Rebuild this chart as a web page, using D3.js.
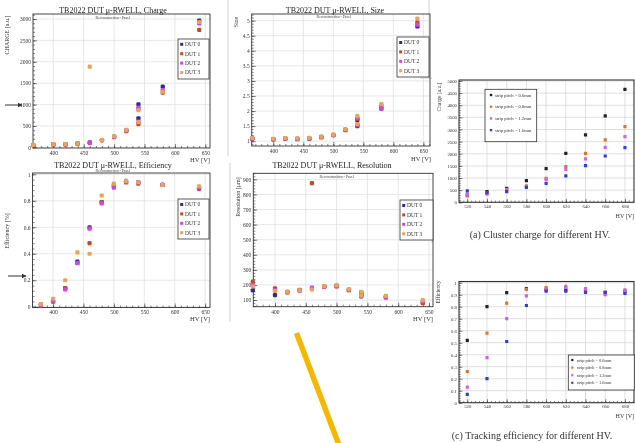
<!DOCTYPE html>
<html><head><meta charset="utf-8">
<script src="https://cdn.jsdelivr.net/npm/d3@7"></script>
<style>
body{margin:0;background:#fff}
svg{display:block;font-family:"Liberation Serif","DejaVu Serif",serif;filter:blur(0.35px)}
</style></head>
<body><svg id="c" width="635" height="443"></svg>
<script>
// ---------------- DATA ----------------
const dutNames = ["DUT 0","DUT 1","DUT 2","DUT 3"];
const dutColors = ["#2b2ba0","#c9471f","#cf45e6","#eba354"];

// Charge (left top)
const chargeHV = [367,400,420,440,460,480,500,520,540,540,580,640];
const chargeDUT0 = [50,70,70,90,110,170,250,400,1005,680,1420,2960];
const chargeDUT1 = [50,70,70,90,110,170,240,380,900,545,1280,2745];
const chargeDUT2 = [50,70,70,90,110,170,245,390,930,600,1340,2900];
const chargeDUT3 = [60,75,75,95,1886,175,260,410,870,590,1300,2930];
const chargeYTicks = [0,500,1000,1500,2000,2500,3000];

// Efficiency (left bottom)
const effHV = [380,400,420,440,460,480,500,520,540,580,640];
const effDUT0 = [0.01,0.04,0.14,0.34,0.60,0.79,0.91,0.94,0.94,0.92,0.90];
const effDUT1 = [0.02,0.04,0.14,0.33,0.48,0.79,0.92,0.95,0.93,0.92,0.89];
const effDUT2 = [0.01,0.04,0.13,0.33,0.59,0.78,0.90,0.94,0.94,0.92,0.90];
const effDUT3 = [0.02,0.06,0.20,0.41,0.40,0.84,0.93,0.95,0.94,0.92,0.91];
const effYTicks = [0,0.2,0.4,0.6,0.8,1];

// Size (middle top)
const sizeHV = [365,400,420,440,460,480,500,520,540,540,580,640];
const sizeDUT0 = [1.08,1.06,1.08,1.07,1.08,1.13,1.20,1.37,1.70,1.50,2.08,4.81];
const sizeDUT1 = [1.09,1.07,1.09,1.08,1.10,1.14,1.21,1.38,1.75,1.52,2.17,4.94];
const sizeDUT2 = [1.09,1.07,1.09,1.08,1.09,1.13,1.20,1.38,1.76,1.55,2.09,4.87];
const sizeDUT3 = [1.10,1.08,1.10,1.09,1.11,1.15,1.22,1.40,1.83,1.57,2.23,5.07];
const sizeYTicks = [1,1.5,2,2.5,3,3.5,4,4.5,5];

// Resolution (middle bottom)
const resHV = [364,400,420,440,460,480,500,520,540,540,580,640];
const resDUT0 = [165,133,152,165,175,190,193,165,150,125,118,85];
const resDUT1 = [222,178,155,167,875,190,195,170,140,133,125,80];
const resDUT2 = [200,165,150,162,182,188,190,168,145,130,120,90];
const resDUT3 = [190,160,155,165,170,192,198,172,155,130,128,100];
const resYTicks = [100,200,300,400,500,600,700,800,900];

const dutXTicks = [400,450,500,550,600,650];

// Right column (strip pitch study)
const pitchNames = ["strip pitch = 0.6mm","strip pitch = 0.8mm","strip pitch = 1.2mm","strip pitch = 1.6mm"];
const pitchColors = ["#222222","#e8702a","#d060f0","#3040e0"];
const pitchHV = [520,540,560,580,600,620,640,660,680];
const clChg06 = [300,440,577,893,1387,2019,2775,3558,4657];
const clChg08 = [261,343,535,673,989,1470,2019,2569,3118];
const clChg12 = [343,360,500,645,948,1360,1786,2267,2706];
const clChg16 = [467,400,440,618,783,1085,1511,1909,2253];
const trEff06 = [0.52,0.80,0.917,0.95,0.94,0.94,0.93,0.92,0.93];
const trEff08 = [0.26,0.58,0.83,0.944,0.96,0.97,0.94,0.90,0.92];
const trEff12 = [0.13,0.375,0.70,0.89,0.95,0.96,0.95,0.91,0.94];
const trEff16 = [0.07,0.20,0.51,0.81,0.93,0.93,0.92,0.92,0.91];
const pitchXTicks = [520,540,560,580,600,620,640,660,680];
const clChgYTicks = [0,500,1000,1500,2000,2500,3000,3500,4000,4500,5000];
const trEffYTicks = [0,0.1,0.2,0.3,0.4,0.5,0.6,0.7,0.8,0.9,1];

// ---------------- DRAW ----------------
const svg = d3.select("#c");
const FONT = '"Liberation Serif","DejaVu Serif",serif';

function minorVals(domain, step){
  const a = Math.ceil(domain[0]/step - 1e-9), b = Math.floor(domain[1]/step + 1e-9);
  return d3.range(a, b+1).map(k => +(k*step).toFixed(6));
}

function panel(c){
  const g = svg.append("g");
  const x = d3.scaleLinear().domain(c.xDomain).range([c.L, c.R]);
  const y = d3.scaleLinear().domain(c.yDomain).range([c.B, c.T]);
  // grid
  g.append("g").selectAll("line").data(c.xTicks.filter(v=>x(v)>c.L+0.5&&x(v)<c.R-0.5)).join("line")
    .attr("x1",d=>x(d)).attr("x2",d=>x(d)).attr("y1",c.T).attr("y2",c.B)
    .attr("stroke",c.grid).attr("stroke-width",0.7);
  g.append("g").selectAll("line").data(c.yTicks.filter(v=>y(v)>c.T+0.5&&y(v)<c.B-0.5)).join("line")
    .attr("y1",d=>y(d)).attr("y2",d=>y(d)).attr("x1",c.L).attr("x2",c.R)
    .attr("stroke",c.grid).attr("stroke-width",0.7);
  // axes
  const xa = g.append("g").attr("transform",`translate(0,${c.B})`)
    .call(d3.axisBottom(x).tickValues(c.xTicks).tickSize(-c.tick).tickPadding(c.xPad).tickFormat(d=>String(d)));
  const xm = g.append("g").attr("transform",`translate(0,${c.B})`)
    .call(d3.axisBottom(x).tickValues(minorVals(c.xDomain,c.xMinor)).tickSize(-c.tick/2).tickFormat(""));
  const ya = g.append("g").attr("transform",`translate(${c.L},0)`)
    .call(d3.axisLeft(y).tickValues(c.yTicks).tickSize(-c.tick).tickPadding(c.yPad).tickFormat(d=>String(d)));
  const ym = g.append("g").attr("transform",`translate(${c.L},0)`)
    .call(d3.axisLeft(y).tickValues(minorVals(c.yDomain,c.yMinor)).tickSize(-c.tick/2).tickFormat(""));
  [xa,xm,ya,ym].forEach(a=>{
    a.select(".domain").remove();
    a.selectAll("line").attr("stroke","#333").attr("stroke-width",0.6);
    a.selectAll("text").attr("font-size",c.fs).attr("font-family",FONT).attr("fill","#333");
  });
  // frame
  g.append("rect").attr("x",c.L).attr("y",c.T).attr("width",c.R-c.L).attr("height",c.B-c.T)
    .attr("fill","none").attr("stroke","#333").attr("stroke-width",c.fw||0.9);
  // points
  c.series.forEach((s,si)=>{
    const pts = s.vals.map((v,i)=>({hv:c.hv[i], v:v}));
    g.append("g").selectAll("rect").data(pts).join("rect")
      .attr("x",d=>x(d.hv)-c.ms/2).attr("y",d=>y(d.v)-c.ms/2)
      .attr("width",c.ms).attr("height",c.ms).attr("rx",c.mr)
      .attr("fill",s.color);
  });
  // title / subtitle
  if(c.title) g.append("text").attr("x",c.titleX).attr("y",c.titleY).attr("text-anchor","middle")
    .attr("font-size",8).attr("fill","#222").text(c.title);
  if(c.sub) g.append("text").attr("x",c.subX).attr("y",c.subY).attr("text-anchor","middle")
    .attr("font-size",3.8).attr("fill","#444").text(c.sub);
  // axis titles
  g.append("text").attr("transform",`translate(${c.ylX},${c.ylY}) rotate(-90)`).attr("text-anchor","middle")
    .attr("font-size",c.ylFs).attr("fill","#333").text(c.ylabel);
  g.append("text").attr("x",c.xlX).attr("y",c.xlY).attr("text-anchor","end")
    .attr("font-size",c.xlFs).attr("fill","#333").text("HV [V]");
  // legend
  const lg = c.legend;
  g.append("rect").attr("x",lg.x).attr("y",lg.y).attr("width",lg.w).attr("height",lg.h)
    .attr("fill","#fff").attr("stroke","#333").attr("stroke-width",0.8);
  const rows = g.append("g").selectAll("g").data(c.series).join("g")
    .attr("transform",(d,i)=>`translate(${lg.x},${lg.y0+i*lg.dy})`);
  rows.append("rect").attr("x",lg.mx-lg.ms/2).attr("y",-lg.ms/2).attr("width",lg.ms).attr("height",lg.ms)
    .attr("fill",d=>d.color);
  rows.append("text").attr("x",lg.tx).attr("y",lg.fs*0.35).attr("font-size",lg.fs).attr("fill","#333").text(d=>d.name);
  return g;
}

const dutSeries = (arrs)=>arrs.map((a,i)=>({name:dutNames[i],color:dutColors[i],vals:a}));
const pitchSeries = (arrs)=>arrs.map((a,i)=>({name:pitchNames[i],color:pitchColors[i],vals:a}));

// decorative screenshot borders
const deco = [[228,0,228,156],[230,163,230,322],[429,0,429,78],[420,78,432,78],[432,200,432,243]];
svg.append("g").selectAll("line").data(deco).join("line")
  .attr("x1",d=>d[0]).attr("y1",d=>d[1]).attr("x2",d=>d[2]).attr("y2",d=>d[3])
  .attr("stroke","#d0d0d0").attr("stroke-width",1);

const dutCommon = {tick:4, fs:5.5, xPad:3, yPad:2, ms:4.2, mr:1.2, grid:"#dcdcdc", xMinor:10, xlFs:6.5, ylFs:6};

panel(Object.assign({}, dutCommon, {
  L:33, R:210, T:14, B:148, xDomain:[366.6,657.7], yDomain:[-15,3117],
  xTicks:dutXTicks, yTicks:chargeYTicks, yMinor:100, hv:chargeHV,
  series:dutSeries([chargeDUT0,chargeDUT1,chargeDUT2,chargeDUT3]),
  title:"TB2022 DUT \u03bc-RWELL, Charge", titleX:113, titleY:12.5, sub:"Reconstruction - Pass1", subX:113, subY:18.5,
  ylabel:"CHARGE [a.u.]", ylX:9, ylY:35, xlX:210, xlY:162,
  legend:{x:178,y:39,w:31,h:40,y0:44.3,dy:9.4,mx:3.7,ms:3,tx:7,fs:5.5}
}));

panel(Object.assign({}, dutCommon, {
  L:32.5, R:210, T:173, B:307.5, xDomain:[366.2,658], yDomain:[-0.006,1.01],
  xTicks:dutXTicks, yTicks:effYTicks, yMinor:0.04, hv:effHV,
  series:dutSeries([effDUT0,effDUT1,effDUT2,effDUT3]),
  title:"TB2022 DUT \u03bc-RWELL, Efficiency", titleX:113, titleY:167.5, sub:"Reconstruction - Pass1", subX:113, subY:172,
  ylabel:"Efficiency [%]", ylX:9, ylY:231, xlX:210, xlY:321,
  legend:{x:178,y:199,w:31,h:40,y0:204.5,dy:9.4,mx:3.7,ms:3,tx:7,fs:5.5}
}));

panel(Object.assign({}, dutCommon, {
  L:251.7, R:430, T:14, B:146, xDomain:[364,661], yDomain:[0.84,5.22],
  xTicks:dutXTicks, yTicks:sizeYTicks, yMinor:0.1, hv:sizeHV,
  series:dutSeries([sizeDUT0,sizeDUT1,sizeDUT2,sizeDUT3]),
  title:"TB2022 DUT \u03bc-RWELL, Size", titleX:335, titleY:12.5, sub:"Reconstruction - Pass1", subX:334, subY:18,
  ylabel:"Size", ylX:238, ylY:22, xlX:431, xlY:161,
  legend:{x:397,y:37,w:32,h:40,y0:42.5,dy:9.4,mx:3.7,ms:3,tx:7,fs:5.5}
}));

panel(Object.assign({}, dutCommon, {
  L:253.3, R:433, T:173.3, B:306.7, xDomain:[364.8,656.5], yDomain:[56,940],
  xTicks:dutXTicks, yTicks:resYTicks, yMinor:20, hv:resHV,
  series:dutSeries([resDUT0,resDUT1,resDUT2,resDUT3]),
  title:"TB2022 DUT \u03bc-RWELL, Resolution", titleX:332, titleY:167.5, sub:"Reconstruction - Pass1", subX:337, subY:178,
  ylabel:"Resolution [\u03bcm]", ylX:239.5, ylY:197, xlX:433, xlY:321,
  legend:{x:400,y:200,w:33,h:40,y0:205.5,dy:9.4,mx:3.7,ms:3,tx:7,fs:5.5}
}));

const rightCommon = {tick:3.5, fs:4.8, xPad:2.2, yPad:2, ms:3.2, mr:0.3, grid:"#d2d2d2", xMinor:4, xlFs:6, ylFs:5.5, fw:1.1};

panel(Object.assign({}, rightCommon, {
  L:459, R:634, T:80, B:202.3, xDomain:[511.6,689.2], yDomain:[0,5040],
  xTicks:pitchXTicks, yTicks:clChgYTicks, yMinor:100, hv:pitchHV,
  series:pitchSeries([clChg06,clChg08,clChg12,clChg16]),
  ylabel:"Charge [a.u.]", ylX:441, ylY:97, xlX:634, xlY:218,
  legend:{x:485,y:89.3,w:51.7,h:52.4,y0:95,dy:11.7,mx:6,ms:2.4,tx:10,fs:4.6}
}));

panel(Object.assign({}, rightCommon, {
  L:459, R:634, T:281.5, B:402.7, xDomain:[511.6,689.2], yDomain:[0,1.01],
  xTicks:pitchXTicks, yTicks:trEffYTicks, yMinor:0.02, hv:pitchHV,
  series:pitchSeries([trEff06,trEff08,trEff12,trEff16]),
  ylabel:"Efficiency", ylX:440, ylY:292, xlX:634, xlY:418,
  legend:{x:568.3,y:355,w:66,h:35,y0:360,dy:7.6,mx:4,ms:2.2,tx:8.4,fs:4.4}
}));

// captions
svg.append("text").attr("x",540).attr("y",237.5).attr("text-anchor","middle")
  .attr("font-size",10).attr("fill","#333").text("(a) Cluster charge for different HV.");
svg.append("text").attr("x",532).attr("y",439).attr("text-anchor","middle")
  .attr("font-size",10).attr("fill","#333").text("(c) Tracking efficiency for different HV.");

// annotation arrows
const defs = svg.append("defs");
defs.append("marker").attr("id","ah").attr("viewBox","0 0 10 10").attr("refX",9).attr("refY",5)
  .attr("markerWidth",5).attr("markerHeight",5).attr("orient","auto")
  .append("path").attr("d","M0,0L10,5L0,10Z").attr("fill","#333");
const arrows = [[5,105,22,105],[8,276,26,276]];
svg.append("g").selectAll("line").data(arrows).join("line")
  .attr("x1",d=>d[0]).attr("y1",d=>d[1]).attr("x2",d=>d[2]).attr("y2",d=>d[3])
  .attr("stroke","#333").attr("stroke-width",1).attr("marker-end","url(#ah)");

// yellow annotation stroke
svg.append("line").attr("x1",296.5).attr("y1",333).attr("x2",339).attr("y2",445)
  .attr("stroke","#f4b800").attr("stroke-width",5.5);
</script></body></html>
